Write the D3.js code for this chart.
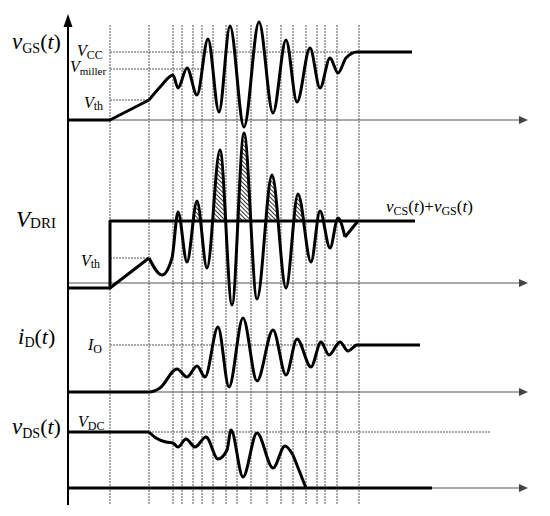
<!DOCTYPE html>
<html>
<head>
<meta charset="utf-8">
<script src="https://cdn.jsdelivr.net/npm/d3@7"></script>
<style>
  body { margin: 0; background: #fff; }
  text { font-family: "Liberation Serif", "Times New Roman", serif; fill: #000; }
</style>
</head>
<body>
<svg id="chart" width="550" height="516"></svg>
<script>
// switching instants (vertical grid lines), arbitrary time units
let gridT = [42, 81, 105, 114, 125, 134, 145, 158, 169, 183, 199, 213, 225, 238, 249, 257, 269, 291]

// vGS(t): levels and waveform [t, value]
let vgsLevels = { cc: 68, miller: 51, th: 20 }
let vgsRamp = [[0, 0], [42, 0], [81, 20]]
let vgsWave = [[81, 20], [93, 34], [105, 45], [110, 32], [119, 52], [129, 25], [140, 81], [151, 8], [162, 94],
  [176, -7], [191, 98], [205, 7], [218, 80], [229, 18], [242, 72], [252, 32], [262, 62], [270, 47], [278, 62],
  [289, 68], [344, 68]]

// VDRI panel: drive step, vCS+vGS waveform
let driLevels = { dri: 62, th: 25 }
let driStep = [[0, -5], [42, -5], [42, 62], [347, 62]]
let driRamp = [[42, -5], [81, 25]]
let driWave = [[81, 25], [94, 8], [104, 25], [110, 71], [119, 21], [129, 82], [139, 15], [152, 133], [164, -22],
  [176, 150], [189, -16], [204, 108], [218, -5], [230, 89], [243, 21], [252, 72], [262, 35], [270, 65], [277, 46]]
let driTail = [[277, 46], [290, 62]]
let hatchSpan = [122, 238] // peaks above VDRI that are shaded

// iD(t)
let idLevels = { io: 47 }
let idWave = [[0, 0], [81, 0], [92, 4], [109, 23], [119, 15], [129, 26], [137, 15], [150, 65], [161, 5], [175, 74],
  [189, 11], [205, 62], [218, 17], [229, 53], [243, 25], [253, 50], [261, 37], [272, 50], [280, 41], [289, 47], [352, 47]]

// vDS(t)
let dsLevels = { dc: 56 }
let dsFlat = [[0, 56], [81, 56]]
let dsWave = [[81, 56], [88, 50], [98, 46], [105, 45], [110, 41], [118, 49], [127, 41], [138, 51], [150, 29],
  [159, 38], [163, 58], [175, 11], [189, 55], [205, 20], [217, 42], [225, 33]]
let dsTail = [[225, 33], [238, 0]]
let dsBase = [[0, 0], [364, 0]]

let svg = d3.select('#chart')

// scales
let x = d3.scaleLinear().domain([0, 457]).range([68, 525])
let yGS = d3.scaleLinear().domain([0, 100]).range([120, 20])
let yDRI = d3.scaleLinear().domain([0, 200]).range([283, 83])
let yD = d3.scaleLinear().domain([0, 100]).range([392, 292])
let yDS = d3.scaleLinear().domain([0, 100]).range([488, 388])

let gridColor = '#555'
let axisColor = '#555'

function lineOf(y, curve) {
  return d3.line().x(d => x(d[0])).y(d => y(d[1])).curve(curve || d3.curveLinear)
}

// defs: hatch + clip
let defs = svg.append('defs')
let pat = defs.append('pattern')
  .attr('id', 'hatch')
  .attr('patternUnits', 'userSpaceOnUse')
  .attr('width', 3)
  .attr('height', 10)
  .attr('patternTransform', 'rotate(-45)')
pat.append('rect').attr('x', 0).attr('y', 0).attr('width', 0.8).attr('height', 10).attr('fill', '#000')

defs.append('clipPath').attr('id', 'hatchClip')
  .append('rect')
  .attr('x', x(hatchSpan[0]))
  .attr('y', 0)
  .attr('width', x(hatchSpan[1]) - x(hatchSpan[0]))
  .attr('height', yDRI(driLevels.dri))

// vertical grid lines
svg.append('g').selectAll('line')
  .data(gridT)
  .enter().append('line')
  .attr('x1', d => x(d))
  .attr('x2', d => x(d))
  .attr('y1', 25)
  .attr('y2', 505)
  .attr('stroke', gridColor)
  .attr('stroke-width', 1)
  .attr('stroke-dasharray', '2,1')

// horizontal reference levels
let refs = [
  [yGS, vgsLevels.cc, 42, 344],
  [yGS, vgsLevels.miller, 42, 134],
  [yGS, vgsLevels.th, 42, 81],
  [yDRI, driLevels.th, 42, 81],
  [yD, idLevels.io, 42, 289],
  [yDS, dsLevels.dc, 42, 422]
]
svg.append('g').selectAll('line')
  .data(refs)
  .enter().append('line')
  .attr('x1', d => x(d[2]))
  .attr('x2', d => x(d[3]))
  .attr('y1', d => d[0](d[1]))
  .attr('y2', d => d[0](d[1]))
  .attr('stroke', gridColor)
  .attr('stroke-width', 1)
  .attr('stroke-dasharray', '2,1')

// time axes with arrows
let axes = [yGS(0), yDRI(0), yD(0), yDS(0)]
let axG = svg.append('g')
axes.forEach(yy => {
  axG.append('line')
    .attr('x1', 68).attr('x2', 522)
    .attr('y1', yy).attr('y2', yy)
    .attr('stroke', axisColor)
    .attr('stroke-width', 1.2)
  axG.append('path')
    .attr('d', 'M519,' + (yy - 4) + 'L528,' + yy + 'L519,' + (yy + 4) + 'Z')
    .attr('fill', '#444')
})

// main vertical axis
svg.append('line')
  .attr('x1', 68).attr('x2', 68)
  .attr('y1', 24).attr('y2', 505)
  .attr('stroke', '#000')
  .attr('stroke-width', 2)
svg.append('path')
  .attr('d', 'M63.5,27L68,14L72.5,27Z')
  .attr('fill', '#000')

// hatched overlap above VDRI
svg.append('path')
  .datum(driWave)
  .attr('d', d3.area()
    .x(d => x(d[0]))
    .y0(yDRI(driLevels.dri))
    .y1(d => yDRI(d[1]))
    .curve(d3.curveMonotoneX))
  .attr('fill', 'url(#hatch)')
  .attr('clip-path', 'url(#hatchClip)')

// waveforms
let waves = [
  [vgsRamp, yGS, d3.curveLinear],
  [vgsWave, yGS, d3.curveMonotoneX],
  [driStep, yDRI, d3.curveLinear],
  [driRamp, yDRI, d3.curveLinear],
  [driWave, yDRI, d3.curveMonotoneX],
  [driTail, yDRI, d3.curveLinear],
  [idWave, yD, d3.curveMonotoneX],
  [dsFlat, yDS, d3.curveLinear],
  [dsWave, yDS, d3.curveMonotoneX],
  [dsTail, yDS, d3.curveLinear],
  [dsBase, yDS, d3.curveLinear]
]
svg.append('g').selectAll('path')
  .data(waves)
  .enter().append('path')
  .attr('d', d => lineOf(d[1], d[2])(d[0]))
  .attr('fill', 'none')
  .attr('stroke', '#000')
  .attr('stroke-width', 3)
  .attr('stroke-linejoin', 'round')

// labels: [text, size, italic, dy]
function label(x0, y0, parts) {
  let t = svg.append('text').attr('x', x0).attr('y', y0)
  parts.forEach(p => {
    t.append('tspan')
      .text(p[0])
      .attr('font-size', p[1])
      .attr('font-style', p[2] ? 'italic' : 'normal')
      .attr('dy', p[3] || 0)
  })
}

label(12, 49, [['v', 23, 1], ['GS', 14, 0, 4], ['(', 22, 0, -4], ['t', 22, 1], [')', 22, 0]])
label(77, 56, [['V', 16, 1], ['CC', 12, 0, 3]])
label(70, 72, [['V', 16, 1], ['miller', 11, 0, 3]])
label(84, 108, [['V', 16, 1], ['th', 12, 0, 2]])
label(16, 227, [['V', 23, 1], ['DRI', 15, 0, 1]])
label(81, 266, [['V', 16, 1], ['th', 12, 0, 2]])
label(386, 212, [['v', 17, 1], ['CS', 12, 0, 3], ['(', 17, 0, -3], ['t', 17, 1], [')+', 17, 0],
  ['v', 17, 1], ['GS', 12, 0, 3], ['(', 17, 0, -3], ['t', 17, 1], [')', 17, 0]])
label(18, 344, [['i', 23, 1], ['D', 14, 0, 3], ['(', 22, 0, -3], ['t', 22, 1], [')', 22, 0]])
label(88, 350, [['I', 16, 1], ['O', 12, 0, 3]])
label(12, 434, [['v', 23, 1], ['DS', 14, 0, 4], ['(', 22, 0, -4], ['t', 22, 1], [')', 22, 0]])
label(78, 427, [['V', 16, 1], ['DC', 12, 0, 3]])
</script>
</body>
</html>
